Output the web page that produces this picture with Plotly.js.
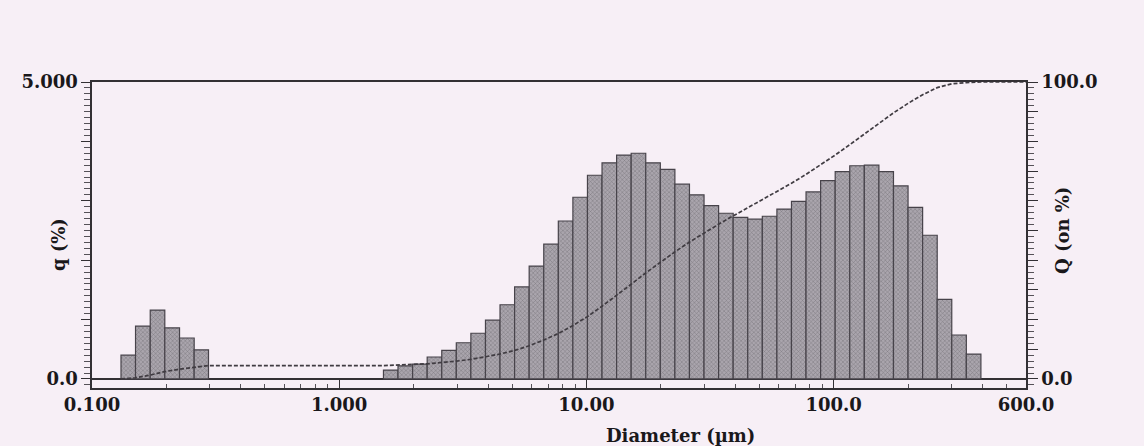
<!DOCTYPE html>
<html>
<head>
<meta charset="utf-8">
<script src="https://cdn.plot.ly/plotly-3.0.1.min.js"></script>
<style>
  html, body { margin: 0; padding: 0; background: #f7eff6; }
  #chart { width: 1144px; height: 446px; }
</style>
</head>
<body>
<div id="chart"></div>
<script>
// Particle size bins (µm): lower and upper edges of each bar
const binLower = [
  0.131, 0.150, 0.172, 0.197, 0.226, 0.259,
  1.510, 1.729, 1.981, 2.269, 2.599, 2.976, 3.409, 3.905, 4.472, 5.122,
  5.867, 6.720, 7.697, 8.816, 10.097, 11.565, 13.246, 15.172, 17.377, 19.904,
  22.797, 26.111, 29.907, 34.255, 39.234, 44.938, 51.471, 58.953, 67.523, 77.340,
  88.583, 101.46, 116.21, 133.103, 152.453, 174.616, 200.0, 229.075, 262.376, 300.518,
  344.206
];
const binUpper = [
  0.150, 0.172, 0.197, 0.226, 0.259, 0.296,
  1.729, 1.981, 2.269, 2.599, 2.976, 3.409, 3.905, 4.472, 5.122, 5.867,
  6.720, 7.697, 8.816, 10.097, 11.565, 13.246, 15.172, 17.377, 19.904, 22.797,
  26.111, 29.907, 34.255, 39.234, 44.938, 51.471, 58.953, 67.523, 77.340, 88.583,
  101.46, 116.21, 133.103, 152.453, 174.616, 200.0, 229.075, 262.376, 300.518, 344.206,
  394.244
];
// q (%) frequency per bin
const qPercent = [
  0.40, 0.89, 1.16, 0.86, 0.69, 0.49,
  0.15, 0.22, 0.25, 0.37, 0.48, 0.61, 0.77, 0.99, 1.25, 1.55,
  1.90, 2.27, 2.66, 3.06, 3.43, 3.64, 3.77, 3.80, 3.64, 3.53,
  3.28, 3.10, 2.92, 2.79, 2.72, 2.69, 2.74, 2.86, 2.99, 3.15,
  3.34, 3.49, 3.59, 3.60, 3.49, 3.25, 2.89, 2.42, 1.34, 0.74,
  0.42
];
// Q (on %) cumulative curve
const cumDiameter = [
  0.131, 0.150, 0.172, 0.197, 0.226, 0.259, 0.296,
  1.510, 1.729, 1.981, 2.269, 2.599, 2.976, 3.409, 3.905, 4.472, 5.122,
  5.867, 6.720, 7.697, 8.816, 10.097, 11.565, 13.246, 15.172, 17.377, 19.904,
  22.797, 26.111, 29.907, 34.255, 39.234, 44.938, 51.471, 58.953, 67.523, 77.340,
  88.583, 101.46, 116.21, 133.103, 152.453, 174.616, 200.0, 229.075, 262.376, 300.518,
  344.206, 394.244, 600.0
];
const cumQ = [
  0.0, 0.4, 1.3, 2.5, 3.3, 4.0, 4.5,
  4.5, 4.6, 4.9, 5.1, 5.5, 6.0, 6.6, 7.4, 8.4, 9.6,
  11.2, 13.1, 15.3, 18.0, 21.0, 24.5, 28.1, 31.9, 35.7, 39.3,
  42.8, 46.1, 49.2, 52.1, 54.9, 57.6, 60.3, 63.0, 65.9, 68.9,
  72.0, 75.4, 78.9, 82.5, 86.1, 89.6, 92.8, 95.7, 98.1, 99.4,
  99.8, 100.0, 100.0
];
const xTickVals = [0.1, 1, 10, 100, 600];
const xTickText = ['0.100', '1.000', '10.00', '100.0', '600.0'];
const qTickVals = [0, 1, 2, 3, 4, 5];
const qTickText = ['0.0', '', '', '', '', '5.000'];
const QTickVals = [0, 10, 20, 30, 40, 50, 60, 70, 80, 90, 100];
const QTickText = ['0.0', '', '', '', '', '', '', '', '', '', '100.0'];

const barCenters = binLower.map((lo, i) => (lo + binUpper[i]) / 2);
const barWidths = binLower.map((lo, i) => binUpper[i] - lo);

const serif = 'DejaVu Serif, Liberation Serif, serif';
const ink = '#1a181b';

const bars = {
  type: 'bar',
  x: barCenters,
  y: qPercent,
  width: barWidths,
  marker: {
    color: '#a29da5',
    line: { color: '#47434a', width: 1.2 },
    pattern: { shape: 'x', fgcolor: '#7b767e', bgcolor: '#aaa5ad', size: 3, solidity: 0.3 }
  },
  hoverinfo: 'x+y',
  showlegend: false
};

const cumLine = {
  type: 'scatter',
  mode: 'lines',
  x: cumDiameter,
  y: cumQ,
  yaxis: 'y2',
  line: { color: '#403c42', width: 1.7, dash: '4px,2px' },
  showlegend: false
};

const tickFont = { family: serif, size: 18, color: ink, weight: 'bold' };

const layout = {
  width: 1144,
  height: 446,
  margin: { l: 92, r: 118, t: 82, b: 58 },
  paper_bgcolor: '#f7eff6',
  plot_bgcolor: '#f7eff6',
  bargap: 0,
  font: { family: serif, color: ink, size: 18 },
  xaxis: {
    type: 'log',
    range: [Math.log10(0.1), Math.log10(600)],
    tickvals: xTickVals,
    ticktext: xTickText,
    ticks: 'inside',
    ticklen: 9,
    tickcolor: '#333034',
    tickfont: tickFont,
    showline: true,
    linecolor: '#333034',
    linewidth: 1.6,
    mirror: true,
    showgrid: false,
    zeroline: false,
    minor: { ticks: 'inside', ticklen: 4, tickcolor: '#555157', dtick: 'D1', showgrid: false }
  },
  yaxis: {
    range: [-0.152, 5],
    tickvals: qTickVals,
    ticktext: qTickText,
    ticks: 'outside',
    ticklen: 9,
    tickcolor: '#333034',
    tickfont: tickFont,
    showline: true,
    linecolor: '#333034',
    linewidth: 1.6,
    showgrid: false,
    zeroline: true,
    zerolinecolor: '#333034',
    zerolinewidth: 1.4,
    fixedrange: true,
    minor: { ticks: 'outside', ticklen: 6, tickcolor: '#555157', dtick: 0.1, showgrid: false }
  },
  yaxis2: {
    overlaying: 'y',
    side: 'right',
    range: [-3.04, 100],
    tickvals: QTickVals,
    ticktext: QTickText,
    ticks: 'outside',
    ticklen: 10,
    tickcolor: '#333034',
    tickfont: tickFont,
    showline: true,
    linecolor: '#333034',
    linewidth: 1.6,
    showgrid: false,
    zeroline: false,
    minor: { ticks: 'outside', ticklen: 6, tickcolor: '#555157', dtick: 2, showgrid: false }
  },
  annotations: [
    { text: 'q (%)', xref: 'paper', yref: 'paper', x: -0.0364, y: 0.467,
      xanchor: 'center', yanchor: 'middle', textangle: -90, showarrow: false,
      font: { family: serif, size: 18, color: ink, weight: 'bold' } },
    { text: 'Q (on %)', xref: 'paper', yref: 'paper', x: 1.0385, y: 0.516,
      xanchor: 'center', yanchor: 'middle', textangle: -90, showarrow: false,
      font: { family: serif, size: 18, color: ink, weight: 'bold' } },
    { text: 'Diameter (µm)', xref: 'paper', yref: 'paper', x: 0.6306, y: -0.1536,
      xanchor: 'center', yanchor: 'middle', showarrow: false,
      font: { family: serif, size: 18, color: ink, weight: 'bold' } }
  ]
};

Plotly.newPlot('chart', [bars, cumLine], layout, { displayModeBar: false, staticPlot: true });
</script>
</body>
</html>
